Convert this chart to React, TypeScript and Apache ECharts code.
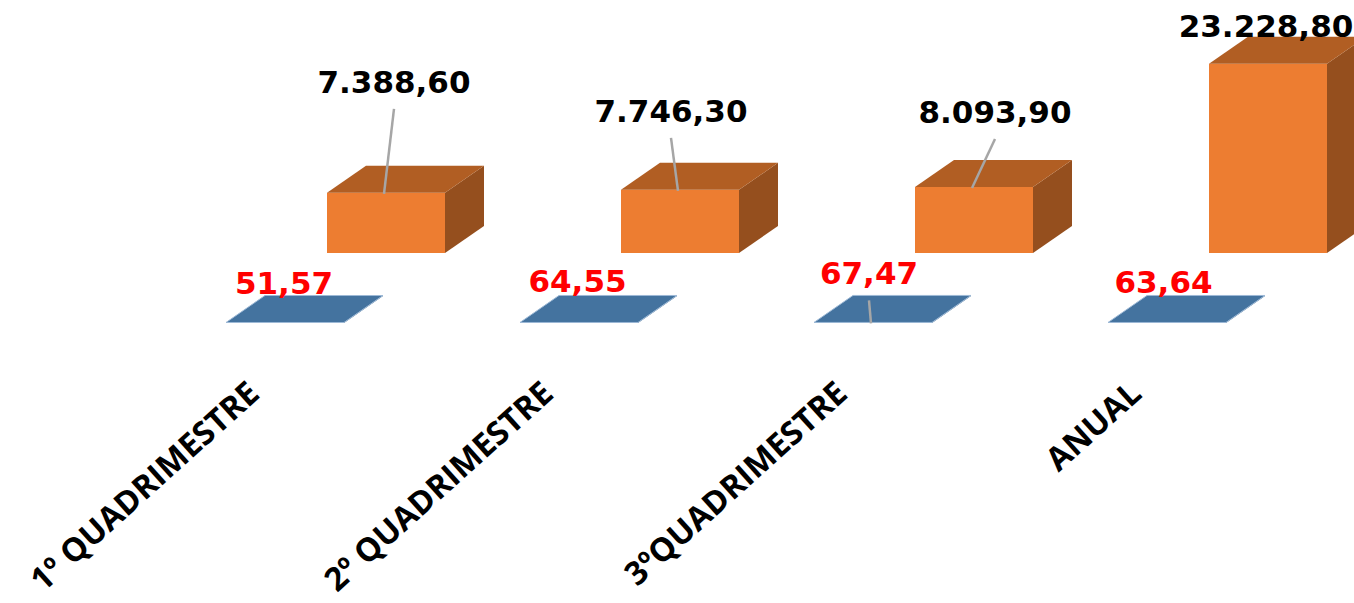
import React, { useEffect, useRef } from "react";
import * as echarts from "echarts";

const categories = ["1º QUADRIMESTRE", "2º QUADRIMESTRE", "3ºQUADRIMESTRE", "ANUAL"];
const blueValues = [51.57, 64.55, 67.47, 63.64];
const orangeValues = [7388.6, 7746.3, 8093.9, 23228.8];

// label placement tweaks (manual positions in the original chart), in px
const orangeLabelOffsets = [[8, -111], [-9, -79], [21, -75], [-2, -38]];
const orangeLeader = [true, true, true, false];
const blueLabelOffsets = [[-1, -40], [-1.5, -41], [-4, -49], [-3.5, -40]];
const blueLeader = [false, false, true, false];

const HALF_W = 59;
const DEPTH_X = 39;
const DEPTH_Y = -27;
const VALUE_FONT = 'bold 31px "DejaVu Sans"';

function fmt(v: number): string {
  const [i, d] = v.toFixed(2).split(".");
  const int = i.replace(/\B(?=(\d{3})+(?!\d))/g, ".");
  return int + "," + d;
}

function boxRenderer(cfg: {
  dx: number;
  dy: number;
  front: string;
  top: string;
  side: string;
  labelColor: string;
  offsets: number[][];
  leader: boolean[];
  stroke?: string;
}) {
  return (params: any, api: any) => {
    const idx = api.value(0);
    const val = api.value(1);
    const base = api.coord([idx, 0]);
    const tp = api.coord([idx, val]);
    const cx = base[0] + cfg.dx;
    const by = base[1] + cfg.dy;
    const ty = Math.min(tp[1] + cfg.dy, by - 0.5);
    const L = cx - HALF_W;
    const R = cx + HALF_W;
    const children: any[] = [];
    children.push({
      type: "polygon",
      shape: { points: [[R, ty], [R + DEPTH_X, ty + DEPTH_Y], [R + DEPTH_X, by + DEPTH_Y], [R, by]] },
      style: { fill: cfg.side },
    });
    children.push({
      type: "rect",
      shape: { x: L, y: ty, width: R - L, height: by - ty },
      style: { fill: cfg.front },
    });
    children.push({
      type: "polygon",
      shape: { points: [[L, ty], [R, ty], [R + DEPTH_X, ty + DEPTH_Y], [L + DEPTH_X, ty + DEPTH_Y]] },
      style: { fill: cfg.top, stroke: cfg.stroke || null, lineWidth: cfg.stroke ? 1 : 0 },
    });
    const off = cfg.offsets[idx];
    const lx = cx + off[0];
    const ly = ty + off[1];
    if (cfg.leader[idx]) {
      children.push({
        type: "line",
        shape: { x1: lx, y1: ly + 27, x2: cx - 2, y2: ty + 1 },
        style: { stroke: "#A6A6A6", lineWidth: 2.5 },
      });
    }
    children.push({
      type: "text",
      x: lx,
      y: ly,
      style: {
        text: fmt(val),
        fill: cfg.labelColor,
        font: VALUE_FONT,
        align: "center",
        verticalAlign: "middle",
        textAlign: "center",
        textVerticalAlign: "middle",
      },
    });
    return { type: "group", children };
  };
}

export default function App() {
  const ref = useRef<HTMLDivElement>(null);
  useEffect(() => {
    if (!ref.current) return;
    const chart = echarts.init(ref.current, undefined, { renderer: "svg" });
    chart.setOption({
      animation: false,
      backgroundColor: "#ffffff",
      grid: { left: 106, right: 72, top: 119.25, bottom: 280, containLabel: false },
      xAxis: {
        type: "category",
        data: categories,
        axisLine: { show: false },
        axisTick: { show: false },
        splitLine: { show: false },
        axisLabel: {
          interval: 0,
          rotate: 42,
          margin: 64,
          color: "#000000",
          fontFamily: "Open Sans",
          fontWeight: "bold",
          fontSize: 32.5,
        },
      },
      yAxis: {
        type: "value",
        min: 0,
        max: 25000,
        show: false,
        splitLine: { show: false },
      },
      series: [
        {
          type: "custom",
          name: "blue",
          data: blueValues.map((v, i) => [i, v]),
          encode: { x: 0, y: 1 },
          renderItem: boxRenderer({
            dx: 32,
            dy: 0,
            front: "#41719C",
            top: "#44739F",
            side: "#365F85",
            labelColor: "#FF0000",
            offsets: blueLabelOffsets,
            leader: blueLeader,
            stroke: "#9DB9D6",
          }),
          z: 3,
        },
        {
          type: "custom",
          name: "orange",
          data: orangeValues.map((v, i) => [i, v]),
          encode: { x: 0, y: 1 },
          renderItem: boxRenderer({
            dx: 133,
            dy: -70,
            front: "#ED7D31",
            top: "#B15E23",
            side: "#954F1E",
            labelColor: "#000000",
            offsets: orangeLabelOffsets,
            leader: orangeLeader,
          }),
          z: 2,
        },
      ],
    });
    return () => chart.dispose();
  }, []);
  return (
    <div
      ref={ref}
      style={{ position: "fixed", left: 0, top: 0, width: 1354, height: 603 }}
    />
  );
}
